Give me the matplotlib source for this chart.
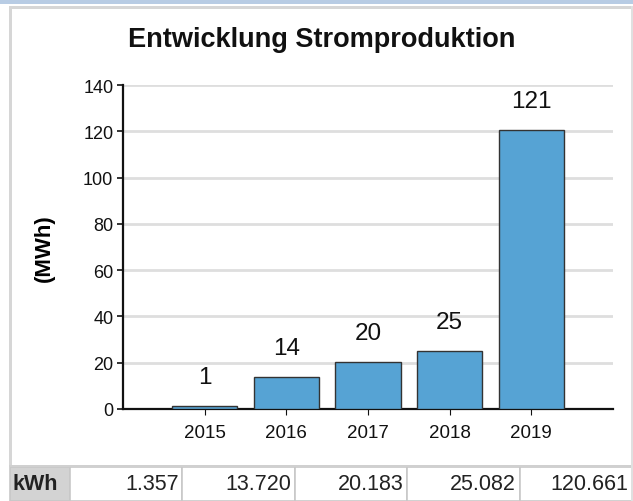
import matplotlib
matplotlib.use("Agg")
import matplotlib.pyplot as plt
from matplotlib.patches import Rectangle

years = ["2015", "2016", "2017", "2018", "2019"]
kwh_labels = ["1.357", "13.720", "20.183", "25.082", "120.661"]
mwh = [1.357, 13.720, 20.183, 25.082, 120.661]
bar_labels = ["1", "14", "20", "25", "121"]
y_ticks = [0, 20, 40, 60, 80, 100, 120, 140]

W, H = 633, 502
plt.rcParams["font.family"] = ["Liberation Sans", "DejaVu Sans"]

fig = plt.figure(figsize=(W / 100, H / 100), dpi=100)
fig.patch.set_facecolor("white")


def px_rect(x0, y0, x1, y1, **kw):
    # rectangle given in pixel coords from top-left
    fig.patches.append(Rectangle((x0 / W, 1 - y1 / H), (x1 - x0) / W, (y1 - y0) / H,
                                 transform=fig.transFigure, figure=fig, **kw))


# page decoration: blue strip and panel frame
px_rect(0, 0, W, 5, facecolor="#b8cce4", edgecolor="none")
px_rect(9, 7, 12, 468, facecolor="#d6d6d6", edgecolor="none")
px_rect(9, 7, W, 10, facecolor="#d6d6d6", edgecolor="none")
px_rect(9, 466, W, 468, facecolor="#d0d0d0", edgecolor="none")
px_rect(631, 7, W, 502, facecolor="#e0e0e0", edgecolor="none")

fig.text(322 / W, 1 - 40 / H, "Entwicklung Stromproduktion", ha="center", va="center",
         fontsize=19.5, fontweight="bold", color="#111111")

ax = fig.add_axes([123 / W, (H - 410) / H, 490 / W, 324 / H])
x = range(len(years))
bars = ax.bar(x, mwh, width=0.8, color="#56a3d4", edgecolor="#333333", linewidth=1.0, zorder=3)
for b, lab in zip(bars, bar_labels):
    ax.annotate(lab, (b.get_x() + b.get_width() / 2, b.get_height()), xytext=(0, 13),
                textcoords="offset points", ha="center", va="bottom", fontsize=17.5, color="#111111")

ax.set_xlim(-1, 5)
ax.set_ylim(0, 140)
ax.set_yticks(y_ticks)
ax.set_xticks(list(x))
ax.set_xticklabels(years)
ax.tick_params(axis="y", labelsize=13, length=4, width=1.2, pad=3, colors="#111111")
ax.tick_params(axis="x", labelsize=13.5, length=4, width=0.8, pad=7, colors="#111111")
ax.grid(axis="y", color="#dedede", linewidth=2, zorder=0)
ax.set_axisbelow(True)
for s in ["top", "right"]:
    ax.spines[s].set_visible(False)
for s in ["left", "bottom"]:
    ax.spines[s].set_linewidth(1.6)
    ax.spines[s].set_color("#111111")
ax.set_ylabel("(MWh)", fontsize=16, fontweight="bold", labelpad=20)

# value table below the chart
tax = fig.add_axes([10 / W, 0, (632 - 10) / W, (H - 468) / H])
tax.axis("off")
col_w = [60] + [113] * 5
tot = sum(col_w)
tbl = tax.table(cellText=[["kWh"] + kwh_labels], colWidths=[c / tot for c in col_w],
                bbox=[0, 0, 1, 1], cellLoc="right")
tbl.auto_set_font_size(False)
for (r, c), cell in tbl.get_celld().items():
    cell.set_edgecolor("#c8c8c8")
    cell.set_linewidth(1.2)
    cell.set_fontsize(15.5)
    cell.PAD = 0.03
    cell.get_text().set_color("#222222")
    if c == 0:
        cell.set_facecolor("#d3d3d3")
        cell.get_text().set_fontweight("bold")
        cell.get_text().set_ha("left")
        cell.PAD = 0.05

fig.savefig("out.png", dpi=100)
